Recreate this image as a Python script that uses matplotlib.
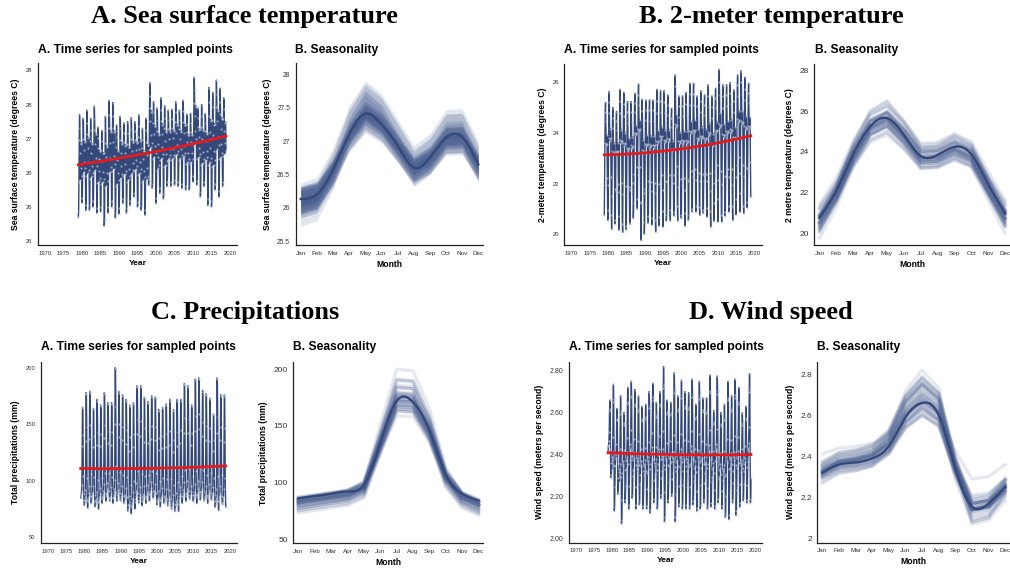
import numpy as np
import matplotlib
matplotlib.use("Agg")
import matplotlib.pyplot as plt

plt.rcParams['font.family'] = ['Liberation Sans', 'DejaVu Sans']

# ---------------- data ----------------
years = np.arange(1979, 2019)
month_labels = ["Jan", "Feb", "Mar", "Apr", "May", "Jun", "Jul", "Aug", "Sep", "Oct", "Nov", "Dec"]

sst_profile = [26.13, 26.20, 26.57, 27.10, 27.41, 27.25, 26.93, 26.60, 26.75, 27.05, 27.06, 26.65]
t2m_profile = [20.77, 22.10, 23.90, 25.25, 25.66, 24.84, 23.80, 23.85, 24.25, 23.88, 22.40, 20.98]
tp_profile = [86, 88, 90, 92, 98, 135, 172, 171, 146, 107, 90, 84]
ws_profile = [2.32, 2.36, 2.37, 2.39, 2.45, 2.59, 2.66, 2.60, 2.34, 2.155, 2.17, 2.25]

# yearly peaks and troughs
sst_max = [27.35, 27.30, 27.42, 27.30, 27.48, 27.17, 27.12, 27.33, 27.56, 27.53, 27.20, 27.33, 27.23, 27.25,
           27.31, 27.25, 27.35, 27.15, 27.30, 27.82, 27.54, 27.45, 27.60, 27.48, 27.42, 27.43, 27.54, 27.42,
           27.56, 27.36, 27.37, 27.90, 27.45, 27.50, 27.37, 27.75, 27.68, 27.86, 27.74, 27.60]
sst_min = [25.85, 26.06, 25.95, 25.95, 26.00, 25.91, 25.93, 25.72, 25.91, 26.00, 25.84, 25.90, 26.05, 25.91,
           26.02, 26.15, 26.00, 25.95, 25.88, 26.32, 26.27, 26.05, 26.20, 26.12, 26.30, 26.30, 26.32, 26.30,
           26.27, 26.25, 26.25, 26.37, 26.32, 26.15, 26.30, 26.02, 26.00, 26.25, 26.15, 26.30]
t2m_max = [25.20, 25.63, 25.00, 24.84, 25.72, 25.60, 25.24, 25.24, 25.56, 25.93, 25.33, 25.30, 25.30, 25.30,
           25.72, 25.67, 25.67, 25.50, 24.97, 26.29, 25.46, 25.46, 25.60, 25.96, 25.96, 25.46, 25.66, 25.50,
           25.90, 25.46, 25.76, 26.51, 25.90, 25.90, 25.99, 25.70, 26.29, 26.46, 26.20, 25.96]
t2m_min = [20.75, 20.55, 20.20, 20.55, 20.16, 20.07, 20.18, 20.42, 21.21, 21.00, 19.76, 20.49, 20.42, 20.36,
           20.09, 20.69, 20.29, 20.75, 20.53, 20.88, 20.53, 20.62, 20.32, 20.75, 20.88, 20.88, 20.75, 20.82,
           20.69, 20.29, 21.21, 20.49, 20.49, 20.88, 20.88, 20.55, 21.40, 20.88, 20.82, 21.28]
tp_max = [165, 178, 179, 164, 172, 167, 178, 169, 169, 200, 179, 176, 172, 167, 169, 184, 184, 174, 170, 175,
          174, 163, 165, 168, 172, 163, 172, 172, 186, 184, 167, 190, 191, 180, 177, 173, 159, 191, 176, 176]
tp_min = [83, 76, 80, 82, 75, 80, 82, 85, 80, 82, 83, 80, 79, 71, 75, 82, 78, 80, 82, 85,
          83, 77, 80, 78, 77, 73, 73, 80, 82, 84, 82, 80, 83, 84, 80, 83, 82, 74, 80, 77]
ws_max = [2.66, 2.735, 2.62, 2.68, 2.60, 2.72, 2.75, 2.71, 2.68, 2.63, 2.64, 2.70, 2.74, 2.65, 2.70, 2.82,
          2.66, 2.65, 2.79, 2.68, 2.755, 2.70, 2.695, 2.76, 2.64, 2.75, 2.67, 2.67, 2.78, 2.61, 2.775, 2.60,
          2.64, 2.75, 2.68, 2.76, 2.72, 2.60, 2.63, 2.785]
ws_min = [2.29, 2.13, 2.21, 2.07, 2.17, 2.14, 2.19, 2.14, 2.16, 2.14, 2.14, 2.12, 2.17, 2.14, 2.19, 2.08,
          2.17, 2.20, 2.08, 2.15, 2.14, 2.14, 2.14, 2.16, 2.13, 2.14, 2.17, 2.14, 2.15, 2.14, 2.17, 2.14,
          2.10, 2.09, 2.17, 2.11, 2.15, 2.18, 2.17, 2.17]

# tick labels
year_ticks = list(range(1970, 2021, 5))
sst_a_ticks = [25.5, 26, 26.5, 27, 27.5, 28]
sst_a_labels = ["26", "26", "26", "27", "28", "28"]
sst_b_ticks = [25.5, 26, 26.5, 27, 27.5, 28]
sst_b_labels = ["25.5", "26", "26.5", "27", "27.5", "28"]
t2m_a_ticks = [20, 22, 24, 26]
t2m_b_ticks = [20, 22, 24, 26, 28]
tp_ticks = [50, 100, 150, 200]
ws_a_ticks = [2.0, 2.2, 2.4, 2.6, 2.8]
ws_a_labels = ["2.00", "2.20", "2.40", "2.60", "2.80"]
ws_b_labels = ["2", "2.2", "2.4", "2.6", "2.8"]

# ---------------- helpers ----------------
W, H = 1010, 569
BLUE = '#34497a'
LINEBLUE = '#4a5f90'
RED = '#e41a1c'

fig = plt.figure(figsize=(W / 100, H / 100), dpi=100)


def ax_px(x0, y0, x1, y1):
    return fig.add_axes([x0 / W, 1 - y1 / H, (x1 - x0) / W, (y1 - y0) / H])


def spline(xk, yk, xs):
    xk = np.asarray(xk, float); yk = np.asarray(yk, float)
    n = len(xk); h = np.diff(xk)
    A = np.zeros((n, n)); b = np.zeros(n)
    A[0, 0] = A[-1, -1] = 1
    for i in range(1, n - 1):
        A[i, i - 1] = h[i - 1]; A[i, i] = 2 * (h[i - 1] + h[i]); A[i, i + 1] = h[i]
        b[i] = 3 * ((yk[i + 1] - yk[i]) / h[i] - (yk[i] - yk[i - 1]) / h[i - 1])
    c = np.linalg.solve(A, b)
    bb = (yk[1:] - yk[:-1]) / h - h * (2 * c[:-1] + c[1:]) / 3
    d = (c[1:] - c[:-1]) / (3 * h)
    idx = np.clip(np.searchsorted(xk, xs) - 1, 0, n - 2)
    dx = xs - xk[idx]
    return yk[idx] + bb[idx] * dx + c[idx] * dx ** 2 + d[idx] * dx ** 3


def monthly(ymin, ymax, profile):
    p = np.asarray(profile, float)
    shape = (p - p.min()) / (p.max() - p.min())
    lo = np.asarray(ymin, float); hi = np.asarray(ymax, float)
    return lo[:, None] + (hi - lo)[:, None] * shape[None, :]


def style(ax, fs):
    for s in ['top', 'right']:
        ax.spines[s].set_visible(False)
    for s in ['left', 'bottom']:
        ax.spines[s].set_linewidth(0.9)
        ax.spines[s].set_color('#222222')
    ax.tick_params(length=0, labelsize=fs, pad=4, labelcolor='#333333')


def panel_a(ax, vals, ylim, yticks, ylabels, ylab, fs=4.2, yfs=None):
    t = (years[:, None] + np.arange(12)[None, :] / 12.0).ravel()
    v = vals.ravel()
    ax.plot(t, v, color=BLUE, lw=1.0, zorder=2)
    ax.plot(t, v, 'o', ms=1.6, mfc='#c0c8da', mec='none', alpha=0.7, zorder=3)
    coef = np.polyfit(t - t.mean(), v, 2)
    ax.plot(t, np.polyval(coef, t - t.mean()), color=RED, lw=2.0, zorder=4)
    ax.set_xlim(1968.1, 2021.9)
    ax.set_ylim(*ylim)
    ax.set_xticks(year_ticks)
    ax.set_yticks(yticks)
    ax.set_yticklabels(ylabels)
    style(ax, fs)
    if yfs:
        ax.tick_params(axis='y', labelsize=yfs)
    ax.set_xlabel('Year', fontweight='bold', fontsize=6.0, labelpad=3)
    ax.set_ylabel(ylab, fontweight='bold', fontsize=6.2, labelpad=4)


def panel_b(ax, vals, profile, ylim, yticks, ylabels, ylab, fs=6.0, ribbons=False):
    m = np.arange(1, 13)
    for row in vals:
        if ribbons:
            ax.fill_between(m, profile, row, color=LINEBLUE, alpha=0.16, lw=0)
        else:
            ax.plot(m, row, color=LINEBLUE, alpha=0.14, lw=2.4)
    xs = np.linspace(1, 12, 300)
    ax.plot(xs, spline(m, profile, xs), color=BLUE, lw=1.7, zorder=5)
    ax.set_xlim(0.69, 12.29)
    ax.set_ylim(*ylim)
    ax.set_xticks(m)
    ax.set_xticklabels(month_labels)
    ax.set_yticks(yticks)
    ax.set_yticklabels(ylabels)
    style(ax, fs)
    ax.tick_params(axis='x', labelsize=4.6)
    ax.set_xlabel('Month', fontweight='bold', fontsize=6.2, labelpad=3)
    ax.set_ylabel(ylab, fontweight='bold', fontsize=6.2, labelpad=4)


sst = monthly(sst_min, sst_max, sst_profile)
t2m = monthly(t2m_min, t2m_max, t2m_profile)
tp = monthly(tp_min, tp_max, tp_profile)
ws = monthly(ws_min, ws_max, ws_profile)

# ---------------- panels ----------------
a1 = ax_px(38, 63, 237, 245)
panel_a(a1, sst, (25.44, 28.11), sst_a_ticks, sst_a_labels, 'Sea surface temperature (degrees C)')
b1 = ax_px(295.7, 63, 483, 245)
panel_b(b1, sst, sst_profile, (25.44, 28.17), sst_b_ticks, sst_b_labels,
        'Sea surface temperature (degrees C)', fs=4.8, ribbons=True)

a2 = ax_px(564.3, 64.3, 761.7, 245)
panel_a(a2, t2m, (19.57, 26.71), t2m_a_ticks, [str(v) for v in t2m_a_ticks], '2-meter temperature (degrees C)')
b2 = ax_px(814.3, 64.3, 1010, 245)
panel_b(b2, t2m, t2m_profile, (19.42, 28.31), t2m_b_ticks, [str(v) for v in t2m_b_ticks],
        '2 metre temperature (degrees C)')

a3 = ax_px(41, 361.7, 236.7, 543.3)
panel_a(a3, tp, (44.7, 205.3), tp_ticks, [str(v) for v in tp_ticks], 'Total precipitations (mm)')
b3 = ax_px(293.3, 362.3, 483.3, 543.3)
panel_b(b3, tp, tp_profile, (46.2, 206.2), tp_ticks, [str(v) for v in tp_ticks], 'Total precipitations (mm)')

a4 = ax_px(569, 361.7, 761.7, 542.7)
panel_a(a4, ws, (1.979, 2.843), ws_a_ticks, ws_a_labels, 'Wind speed (meters per second)', yfs=5.0)
b4 = ax_px(817.3, 361.7, 1010, 542.7)
panel_b(b4, ws, ws_profile, (1.979, 2.861), ws_a_ticks, ws_b_labels, 'Wind speed (metres per second)')

# ---------------- titles ----------------
def ftext(x, y, s, **kw):
    fig.text(x / W, 1 - y / H, s, **kw)

big = dict(ha='center', va='center', family=['Liberation Serif', 'DejaVu Serif'], fontweight='bold', fontsize=19)
ftext(244, 17, 'A. Sea surface temperature', **big)
ftext(771, 17, 'B. 2-meter temperature', **big)
ftext(245, 313, 'C. Precipitations', **big)
ftext(771, 313, 'D. Wind speed', **big)

sub = dict(ha='left', va='center', fontweight='bold', fontsize=8.7)
ftext(38, 50, 'A. Time series for sampled points', **sub)
ftext(295, 50, 'B. Seasonality', **sub)
ftext(564, 50, 'A. Time series for sampled points', **sub)
ftext(815, 50, 'B. Seasonality', **sub)
ftext(41, 347, 'A. Time series for sampled points', **sub)
ftext(293, 347, 'B. Seasonality', **sub)
ftext(569, 347, 'A. Time series for sampled points', **sub)
ftext(817, 347, 'B. Seasonality', **sub)

fig.savefig('out.png', dpi=100)
